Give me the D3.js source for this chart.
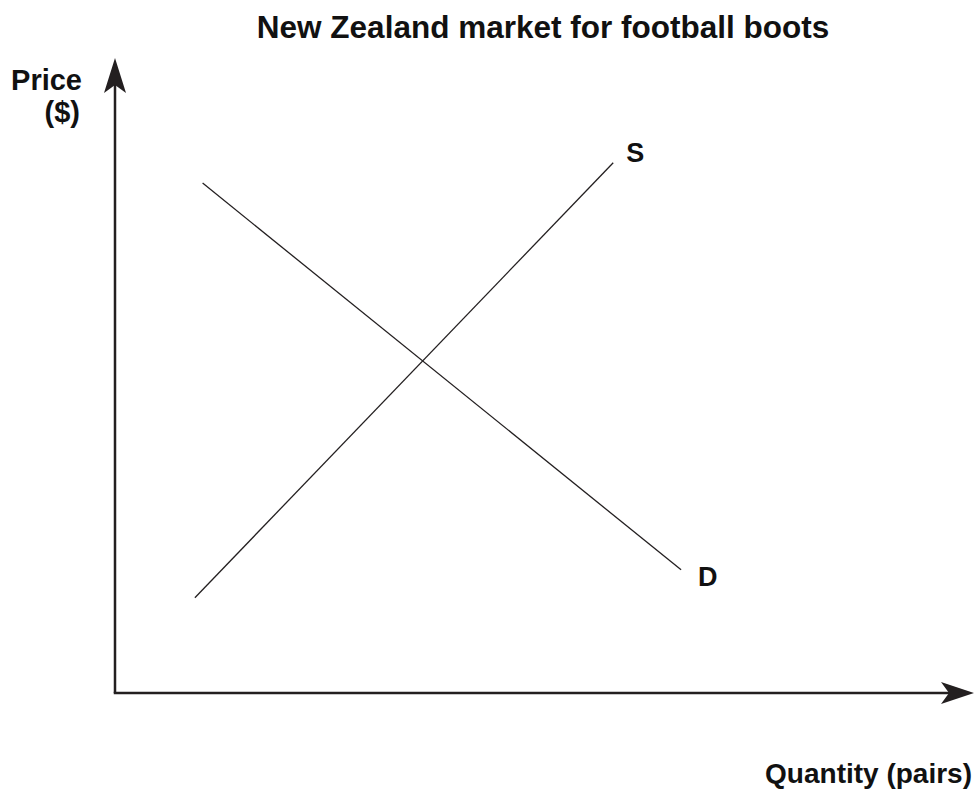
<!DOCTYPE html>
<html>
<head>
<meta charset="utf-8">
<script src="https://cdn.jsdelivr.net/npm/d3@7"></script>
<style>
  body { margin: 0; background: #fff; }
  text { font-family: "Liberation Sans", Arial, sans-serif; font-weight: bold; fill: #111; }
</style>
</head>
<body>
<div id="chart"></div>
<script>
// curves (quantity, price) in arbitrary 0-100 units
const curveNames = ["D", "S"];
const demandPts = [{ q: 10.2, p: 80.3 }, { q: 65.9, p: 19.4 }];
const supplyPts = [{ q: 9.3, p: 15.0 }, { q: 58.0, p: 83.5 }];
const titleText = "New Zealand market for football boots";
const yLabel = ["Price", "($)"];
const xLabel = "Quantity (pairs)";

const width = 974, height = 794;
const svg = d3.select('#chart').append('svg')
    .attr('width', width)
    .attr('height', height);

const x = d3.scaleLinear().domain([0, 100]).range([115, 974]);
const y = d3.scaleLinear().domain([0, 100]).range([693, 58]);

const ink = "#231f20";

// axes
svg.append('line')
    .attr('x1', x(0)).attr('y1', y(0))
    .attr('x2', x(0)).attr('y2', y(100) + 20)
    .attr('stroke', ink).attr('stroke-width', 2.5);
svg.append('line')
    .attr('x1', x(0) - 1.25).attr('y1', y(0))
    .attr('x2', x(100) - 20).attr('y2', y(0))
    .attr('stroke', ink).attr('stroke-width', 2.5);

// arrow heads (barbed)
const yt = [x(0), y(100)];
svg.append('path')
    .attr('d', `M${yt[0]},${yt[1]} L${yt[0] + 11},${yt[1] + 35} L${yt[0]},${yt[1] + 27} L${yt[0] - 11},${yt[1] + 35} Z`)
    .attr('fill', ink);
const xt = [x(100), y(0)];
svg.append('path')
    .attr('d', `M${xt[0]},${xt[1]} L${xt[0] - 33},${xt[1] + 11} L${xt[0] - 25},${xt[1]} L${xt[0] - 33},${xt[1] - 11} Z`)
    .attr('fill', ink);

// demand and supply lines
const line = d3.line().x(d => x(d.q)).y(d => y(d.p));
[demandPts, supplyPts].forEach(pts => {
    svg.append('path')
        .attr('d', line(pts))
        .attr('fill', 'none')
        .attr('stroke', ink)
        .attr('stroke-width', 1.3);
});

// curve labels
svg.append('text').attr('x', x(demandPts[1].q) + 17).attr('y', y(demandPts[1].p) + 16)
    .style('font-size', '27px').text(curveNames[0]);
svg.append('text').attr('x', x(supplyPts[1].q) + 13).attr('y', y(supplyPts[1].p) - 1)
    .style('font-size', '27px').text(curveNames[1]);

// title
svg.append('text')
    .attr('x', 543).attr('y', 38)
    .attr('text-anchor', 'middle')
    .style('font-size', '31.5px')
    .text(titleText);

// axis labels
svg.append('text').attr('x', 82).attr('y', 90).attr('text-anchor', 'end')
    .style('font-size', '29px').text(yLabel[0]);
svg.append('text').attr('x', 80).attr('y', 122).attr('text-anchor', 'end')
    .style('font-size', '29px').text(yLabel[1]);
svg.append('text').attr('x', 972).attr('y', 783).attr('text-anchor', 'end')
    .style('font-size', '28px').text(xLabel);
</script>
</body>
</html>
